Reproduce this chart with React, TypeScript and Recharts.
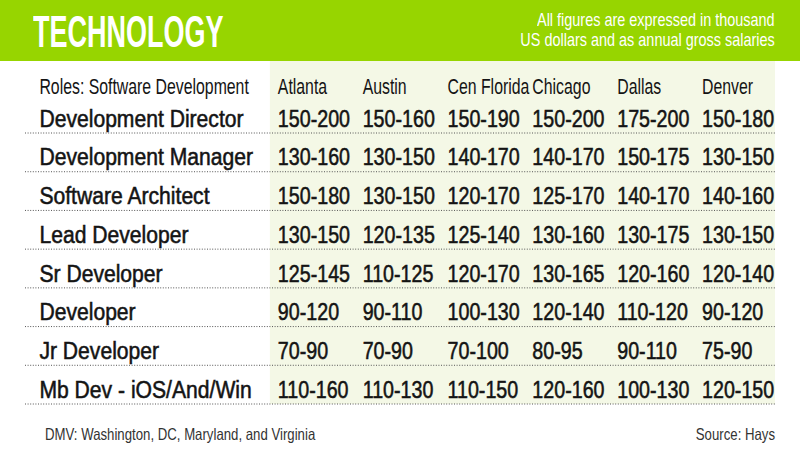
import React from 'react';
import {
  ScatterChart,
  Scatter,
  XAxis,
  YAxis,
  ReferenceArea,
  ReferenceLine,
} from 'recharts';

// table content
const cities = ['Atlanta', 'Austin', 'Cen Florida', 'Chicago', 'Dallas', 'Denver'];
const roles = [
  'Development Director',
  'Development Manager',
  'Software Architect',
  'Lead Developer',
  'Sr Developer',
  'Developer',
  'Jr Developer',
  'Mb Dev - iOS/And/Win',
];
// salary ranges per city, in role order
const atlanta = ['150-200', '130-160', '150-180', '130-150', '125-145', '90-120', '70-90', '110-160'];
const austin = ['150-160', '130-150', '130-150', '120-135', '110-125', '90-110', '70-90', '110-130'];
const cenFlorida = ['150-190', '140-170', '120-170', '125-140', '120-170', '100-130', '70-100', '110-150'];
const chicago = ['150-200', '140-170', '125-170', '130-160', '130-165', '120-140', '80-95', '120-160'];
const dallas = ['175-200', '150-175', '140-170', '130-175', '120-160', '110-120', '90-110', '100-130'];
const denver = ['150-180', '130-150', '140-160', '130-150', '120-140', '90-120', '75-90', '120-150'];

const columns = [atlanta, austin, cenFlorida, chicago, dallas, denver];

const GREEN = '#97d500';
const PANEL = '#f4f8e6';
const INK = '#141414';
const FONT = '"Liberation Sans", Arial, sans-serif';

// layout in table units: x = column index, y = row index
const X_DOMAIN = [-2.98, 5.86];
const Y_DOMAIN = [-1.36, 7.5];
const ROLE_X = -2.81;
const HEADER_Y = -0.72;

const cells = columns.flatMap((col, j) =>
  col.map((v, i) => ({ x: j, y: i, label: v }))
);
const roleCells = roles.map((r, i) => ({ x: ROLE_X, y: i, label: r }));
const headerCells = [
  { x: ROLE_X, y: HEADER_Y, label: 'Roles: Software Development' },
  ...cities.map((c, j) => ({ x: j, y: HEADER_Y, label: c })),
];

function NarrowText({ x, y, text, size, weight = 400, sx = 0.82, anchor = 'start', fill = INK, sw = 0 }: any) {
  return (
    <text
      transform={`translate(${x},${y}) scale(${sx},1)`}
      fontFamily={FONT}
      fontSize={size}
      fontWeight={weight}
      textAnchor={anchor}
      fill={fill}
      stroke={sw ? fill : 'none'}
      strokeWidth={sw}
    >
      {text}
    </text>
  );
}

const valueShape = (p: any) => (
  <NarrowText x={p.cx} y={p.cy + 13} text={p.payload.label} size={24} sx={0.82} sw={0.55} />
);
const roleShape = (p: any) => (
  <NarrowText x={p.cx} y={p.cy + 13} text={p.payload.label} size={24} sx={0.88} sw={0.55} />
);
const headerShape = (p: any) => (
  <NarrowText x={p.cx} y={p.cy + 8} text={p.payload.label} size={22} sx={0.72} />
);

function HtmlText({ left, right, top, size, weight = 400, sx, color, children }: any) {
  return (
    <div
      style={{
        position: 'absolute',
        left,
        right,
        top,
        fontFamily: FONT,
        fontSize: size,
        fontWeight: weight,
        color,
        lineHeight: 1,
        whiteSpace: 'nowrap',
        transform: `scaleX(${sx})`,
        transformOrigin: right !== undefined ? 'right top' : 'left top',
        textAlign: right !== undefined ? 'right' : 'left',
      }}
    >
      {children}
    </div>
  );
}

export default function App() {
  return (
    <div style={{ position: 'relative', width: 800, height: 450, background: '#fff', overflow: 'hidden' }}>
      <style>{'body{margin:0}'}</style>
      <div style={{ position: 'absolute', left: 0, top: 0, width: 800, height: 61, background: GREEN }} />
      <HtmlText left={33} top={9} size={45} weight={700} sx={0.6} color="#fff">TECHNOLOGY</HtmlText>
      <HtmlText right={25} top={10} size={19} sx={0.76} color="#fff">
        All figures are expressed in thousand
      </HtmlText>
      <HtmlText right={25} top={30} size={19} sx={0.76} color="#fff">
        US dollars and as annual gross salaries
      </HtmlText>

      <div style={{ position: 'absolute', left: 0, top: 0 }}>
        <ScatterChart width={800} height={450} margin={{ top: 61, right: 25, bottom: 46, left: 25 }}>
          <XAxis type="number" dataKey="x" domain={X_DOMAIN} allowDataOverflow hide />
          <YAxis type="number" dataKey="y" domain={Y_DOMAIN} allowDataOverflow reversed hide />
          <ReferenceArea x1={-0.094} x2={5.86} y1={-1.36} y2={7.5} fill={PANEL} fillOpacity={1} stroke="none" />
          {roles.map((_, i) => (
            <ReferenceLine key={i} y={i + 0.5} stroke="#555" strokeDasharray="1 1.6" strokeWidth={1} />
          ))}
          <Scatter data={headerCells} shape={headerShape} isAnimationActive={false} />
          <Scatter data={roleCells} shape={roleShape} isAnimationActive={false} />
          <Scatter data={cells} shape={valueShape} isAnimationActive={false} />
        </ScatterChart>
      </div>

      <HtmlText left={45} top={426} size={16.5} sx={0.8} color="#333">
        DMV: Washington, DC, Maryland, and Virginia
      </HtmlText>
      <HtmlText right={25} top={426} size={16.5} sx={0.8} color="#333">
        Source: Hays
      </HtmlText>
    </div>
  );
}
